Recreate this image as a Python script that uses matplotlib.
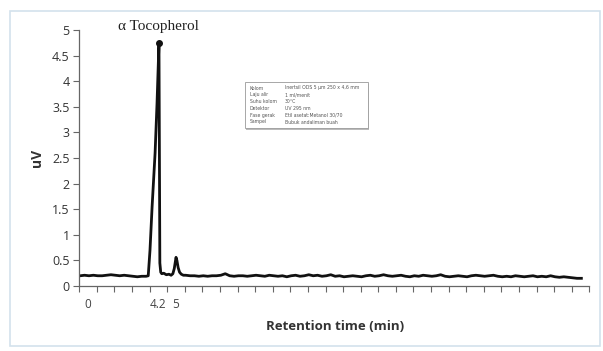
import numpy as np
import matplotlib.pyplot as plt
from matplotlib.patches import Rectangle

# retention time axis (category slots as in the original Excel chart)
t_pre = np.arange(-0.45, 3.3, 0.25)
y_pre = [0.20, 0.21, 0.20, 0.21, 0.20, 0.20, 0.21, 0.22, 0.21, 0.20,
         0.21, 0.20, 0.19, 0.18, 0.19]

t_peak = [3.3, 3.42, 3.52, 3.64, 3.81, 3.92, 4.03, 4.08, 4.13, 4.19, 4.3,
          4.45, 4.6, 4.72, 4.82, 4.9, 5.0, 5.05, 5.12, 5.2, 5.3, 5.42]
y_peak = [0.19, 0.20, 0.70, 1.55, 2.60, 3.57, 4.74, 0.45, 0.27, 0.24, 0.25,
          0.22, 0.23, 0.21, 0.24, 0.34, 0.56, 0.50, 0.36, 0.27, 0.23, 0.21]

t_post = np.arange(5.55, 28.1, 0.25)
y_post = [0.21, 0.20, 0.20, 0.19, 0.20, 0.19, 0.20, 0.20, 0.21, 0.24, 0.20, 0.19, 0.20, 0.20, 0.19, 0.20, 0.21, 0.20, 0.19, 0.21,
          0.20, 0.19, 0.20, 0.18, 0.20, 0.21, 0.19, 0.20, 0.22, 0.20, 0.21, 0.19, 0.20, 0.22, 0.19, 0.20, 0.18, 0.19, 0.20, 0.19,
          0.18, 0.20, 0.21, 0.19, 0.20, 0.22, 0.20, 0.19, 0.20, 0.21, 0.19, 0.18, 0.20, 0.19, 0.21, 0.20, 0.19, 0.20, 0.22, 0.19,
          0.18, 0.19, 0.20, 0.19, 0.18, 0.20, 0.21, 0.20, 0.19, 0.20, 0.21, 0.19, 0.18, 0.19, 0.18, 0.20, 0.19, 0.18, 0.19, 0.20,
          0.18, 0.19, 0.18, 0.20, 0.18, 0.17, 0.18, 0.17, 0.16, 0.15, 0.15]

xtick_pos = [0, 4, 5]
xtick_labels = ['0', '4.2', '5']
yticks = [0, 0.5, 1, 1.5, 2, 2.5, 3, 3.5, 4, 4.5, 5]

info_keys = ['Kolom', 'Laju alir', 'Suhu kolom', 'Detektor', 'Fase gerak', 'Sampel']
info_vals = ['Inertsil ODS 5 \u00b5m 250 x 4,6 mm', '1 ml/menit', '30\u00b0C',
             'UV 295 nm', 'Etil asetat:Metanol 30/70', 'Bubuk andaliman buah']

t = np.concatenate([t_pre, t_peak, t_post])
y = np.concatenate([y_pre, y_peak, y_post])

fig = plt.figure(figsize=(6.03, 3.51), dpi=100)
fig.patches.append(Rectangle((10 / 603, 5 / 351), 590 / 603, 335 / 351,
                             transform=fig.transFigure, fill=False,
                             edgecolor='#d3e2ec', lw=1.2))

ax = fig.add_axes([79.3 / 603, (351 - 286) / 351, 510 / 603, 256 / 351])
ax.plot(t, y, color='#111111', lw=2.0, solid_joinstyle='round')
top = int(np.argmax(y))
ax.plot(t[top], y[top], 'o', color='#111111', ms=4)

ax.set_xlim(-0.5, 28.5)
ax.set_ylim(0, 5)
ax.set_yticks(yticks)
ax.set_yticklabels([f'{v:g}' for v in yticks], fontsize=9, color='#333333',
                   family='Open Sans')
ax.set_xticks(xtick_pos)
ax.set_xticklabels(xtick_labels, fontsize=8.5, color='#444444', family='Open Sans')
ax.set_xticks(np.arange(-0.5, 28.6, 1), minor=True)
ax.tick_params(axis='x', which='major', length=0, pad=9)
ax.tick_params(axis='x', which='minor', length=4, width=0.8, color='#666666')
ax.tick_params(axis='y', length=4, width=0.8, color='#666666', pad=3)
for s in ['top', 'right']:
    ax.spines[s].set_visible(False)
for s in ['left', 'bottom']:
    ax.spines[s].set_color('#666666')
    ax.spines[s].set_linewidth(0.9)

ax.set_ylabel('uV', fontsize=10, fontweight='bold', color='#333333',
              family='Open Sans', labelpad=6)
fig.text(335 / 603, 1 - 326 / 351, 'Retention time (min)', fontsize=9.5,
         fontweight='bold', color='#333333', family='Open Sans',
         ha='center', va='center')

ax.text(4.0, 5.06, '\u03b1 Tocopherol', fontsize=11, family='Liberation Serif',
        ha='center', va='center', color='#222222')

# method info box
bx, by, bw, bh = 245 / 603, 1 - 128 / 351, 123 / 603, 46 / 351
fig.patches.append(Rectangle((bx + 0.002, by - 0.005), bw, bh, transform=fig.transFigure,
                             facecolor='#bbbbbb', edgecolor='none'))
fig.patches.append(Rectangle((bx, by), bw, bh, transform=fig.transFigure,
                             facecolor='white', edgecolor='#999999', lw=0.6))
for i, (k, v) in enumerate(zip(info_keys, info_vals)):
    yy = 1 - (88 + i * 6.8) / 351
    fig.text(250 / 603, yy, k, fontsize=3.3, color='#555555', va='center')
    fig.text(285 / 603, yy, v, fontsize=3.3, color='#555555', va='center')

fig.savefig('out.png', dpi=100)
